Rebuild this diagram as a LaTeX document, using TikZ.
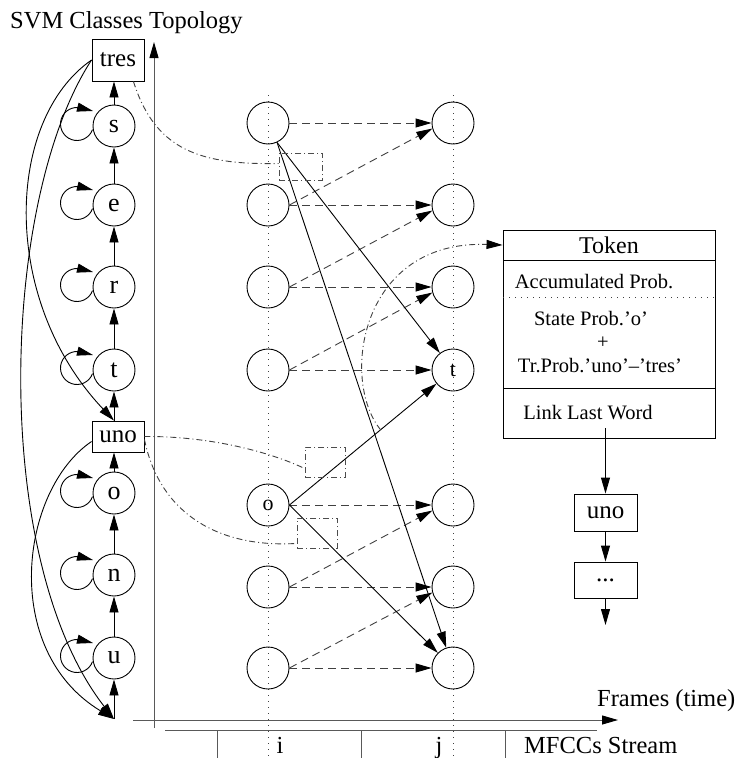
\documentclass[tikz,border=0pt]{standalone}
\usepackage{fontspec}
\setmainfont{Liberation Serif}
\usetikzlibrary{arrows.meta,calc}
\newcommand\myfs[1]{\fontsize{#1}{#1}\selectfont}
\begin{document}
\begin{tikzpicture}[x=1pt,y=-1pt,
  lw/.style={line width=0.9pt},
  tip/.style={-{Triangle[length=16pt,width=9pt,color=black]}},
  st/.style={circle,draw,lw,minimum size=42pt,inner sep=0pt,font=\myfs{26}},
  gs/.style={circle,draw,lw,minimum size=42pt,inner sep=0pt,font=\myfs{22}},
  wbox/.style={rectangle,draw,lw,inner sep=0pt,font=\myfs{25}},
  arr/.style={lw,tip},
  dsh/.style={lw,black!75,dash pattern=on 8pt off 5pt,tip},
  dd/.style={lw,black!75,dash pattern=on 6pt off 3pt on 1pt off 3pt},
  ddbox/.style={draw,lw,black!70,dash pattern=on 6pt off 3pt on 1pt off 3pt,inner sep=0pt},
  dot/.style={line width=1pt,black!75,dash pattern=on 1pt off 5pt},
  ax/.style={line width=1pt,black!65},
  lbl/.style={inner sep=0pt,font=\myfs{24.5}},
  small/.style={inner sep=0pt,font=\myfs{20.5}},
  tokbox/.style={draw,lw,minimum width=212pt,inner sep=0pt}
]
\useasboundingbox (0,0) rectangle (737,758);

% ---------- left column (class topology) ----------
\node[wbox,minimum width=52pt,minimum height=42pt] (tres) at (118,60) {tres};
\node[st] (s) at (114,126) {s};
\node[st] (e) at (114,205) {e};
\node[st] (r) at (114,287) {r};
\node[st] (t) at (114,370) {t};
\node[wbox,minimum width=52pt,minimum height=31pt] (uno) at (118,436.5) {uno};
\node[st] (o) at (114,493) {o};
\node[st] (n) at (114,575) {n};
\node[st] (u) at (114,658) {u};
\coordinate (st0) at (114,719);

\draw[arr] (st0) -- (u);
\draw[arr] (u) -- (n);
\draw[arr] (n) -- (o);
\draw[arr] (o.north) -- (o.north |- uno.south);
\draw[arr] (t.south |- uno.north) -- (t.south);
\draw[arr] (t) -- (r);
\draw[arr] (r) -- (e);
\draw[arr] (e) -- (s);
\draw[arr] (s.north) -- (s.north |- tres.south);

\foreach \v in {s,e,r,t,o,n,u}
  \draw[arr] ($(\v)+(-37,-2)+(20:16.5)$) arc[start angle=20,end angle=282,radius=16.5]
     -- ($(\v)+(-21,-15)$);

\draw[arr] (tres.west) .. controls (5,120) and (0,300) .. (t.south |- uno.north);
\draw[arr] (tres.west) .. controls (0,200) and (-10,560) .. (st0);
\draw[arr] ($(uno.west)+(0,5)$) .. controls (20,490) and (0,650) .. (st0);

% ---------- axes ----------
\coordinate (vb) at (154,728);
\coordinate (vt) at (154,42);
\draw[ax,tip] (vb) -- (vt);
\coordinate (hl) at (133,720);
\coordinate (hr) at (618,720);
\draw[ax,tip] (hl) -- (hr);
\draw[ax] (165,730) -- (597,730);
\foreach \x in {217,361,505} \draw[ax] (\x,730) -- (\x,758);

% ---------- trellis ----------
\draw[dot] (268,95) -- (268,758);
\draw[dot] (453,95) -- (453,758);

\node[gs] (i1) at (268,123) {};
\node[gs] (i2) at (268,205) {};
\node[gs] (i3) at (268,287) {};
\node[gs] (i4) at (268,370) {};
\node[gs] (i5) at (268,505) {o};
\node[gs] (i6) at (268,587) {};
\node[gs] (i7) at (268,668) {};
\node[gs] (j1) at (453,123) {};
\node[gs] (j2) at (453,205) {};
\node[gs] (j3) at (453,287) {};
\node[gs] (j4) at (453,370) {t};
\node[gs] (j5) at (453,505) {};
\node[gs] (j6) at (453,587) {};
\node[gs] (j7) at (453,668) {};

\foreach \k in {1,...,7} \draw[dsh] (i\k) -- (j\k);
\foreach \a/\b in {2/1,3/2,4/3,6/5,7/6} \draw[dsh] (i\a.east) -- (j\b.195);

\draw[arr] (i1.-65) -- (j4);
\draw[arr] (i1.-65) -- (j7);
\draw[arr] (i5.east) -- coordinate[pos=0.62] (tk) (j4);
\draw[arr] (i5.east) -- (j7);

% dash-dot boxes and curves
\node[ddbox,minimum width=43pt,minimum height=27pt] (b1) at (300.5,166.5) {};
\node[ddbox,minimum width=40pt,minimum height=30pt] (b2) at (325,462) {};
\node[ddbox,minimum width=40pt,minimum height=30pt] (b3) at (317,533) {};

\draw[dd] ($(tres.south east)+(-11,0)$) .. controls (155,150) and (200,165) .. ($(b1.west)+(0,-3)$);
\draw[dd] (uno.east) .. controls (210,436) and (270,452) .. ($(b2.south west)+(0,-9)$);
\draw[dd] ($(uno.east)+(0,3)$) .. controls (160,515) and (220,548) .. ($(b3.south west)+(0,-5)$);

% ---------- token ----------
\node[tokbox,minimum height=30pt,font=\myfs{24}] (tokh) at (609,245) {Token};
\node[tokbox,minimum height=128pt] (tokm) at (609,324) {};
\node[tokbox,minimum height=50pt] (tokl) at (609,413) {};
\node[small] (acc) at (594,282) {Accumulated Prob.};
\draw[dot] (503,297) -- (715,297);
\node[small] (sp) at (591,319) {State Prob.'o'};
\node[small] (pl) at (603,343) {+};
\node[small] (tp) at (600,366) {Tr.Prob.'uno'--'tres'};
\node[small] (lnk) at (588,413) {Link Last Word};

\draw[dd,tip] (tk) .. controls (340,380) and (360,240) .. (tokh.west);

\coordinate (lk) at (605.5,428);
\node[wbox,minimum width=63pt,minimum height=37pt] (uno2) at (605.5,512.5) {uno};
\node[wbox,minimum width=63pt,minimum height=36pt] (dts) at (605.5,580) {...};
\coordinate (fin) at (605.5,625);
\draw[arr] (lk) -- (uno2);
\draw[arr] (uno2) -- (dts);
\draw[arr] (dts) -- (fin);

% ---------- texts ----------
\node[lbl,anchor=base west] (title) at (10,28) {SVM Classes Topology};
\node[lbl,anchor=base west] (fr) at (597,706) {Frames (time)};
\node[lbl,anchor=base west] (mf) at (524,753) {MFCCs Stream};
\node[lbl,anchor=base] (li) at (280,753) {i};
\node[lbl,anchor=base] (lj) at (439,753) {j};
\end{tikzpicture}
\end{document}
